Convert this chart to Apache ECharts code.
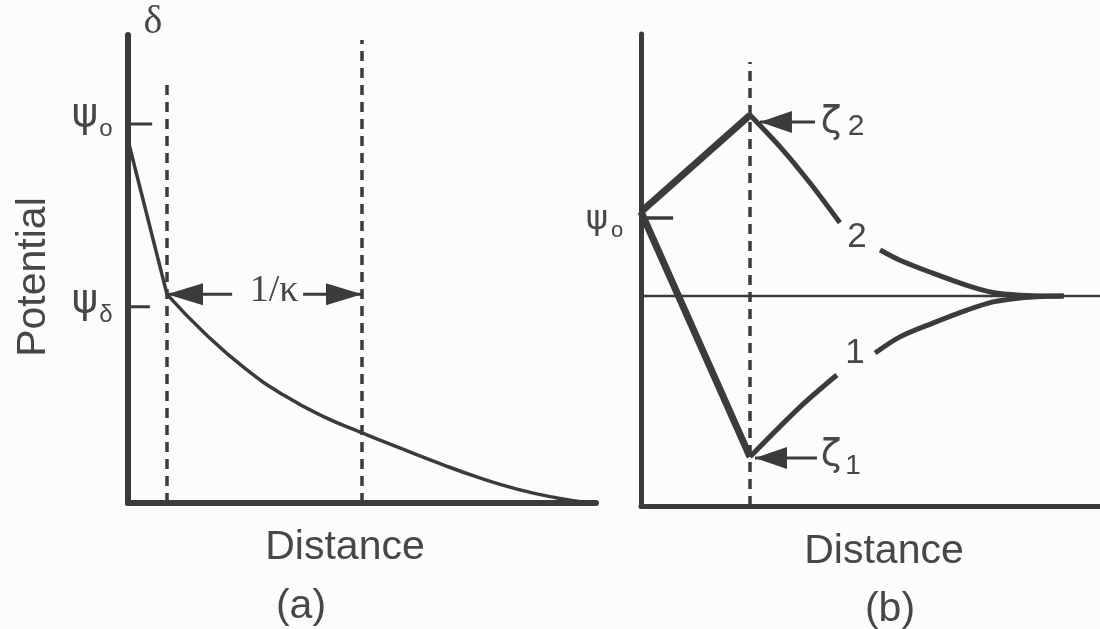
<!DOCTYPE html>
<html>
<head>
<meta charset="utf-8">
<script src="https://cdn.jsdelivr.net/npm/echarts@6/dist/echarts.min.js"></script>
<style>
  html, body { margin: 0; padding: 0; background: #fcfcfa; }
  #chart { width: 1100px; height: 629px; }
</style>
</head>
<body>
<div id="chart"></div>
<script>
// ---- panel (a): potential through the Stern layer and the diffuse layer ----
const sternX = [0, 1];
const sternY = [9.3, 5.35];
const diffuseX = [1, 2, 3, 4, 5, 6, 7, 8, 9, 10, 11, 11.85];
const diffuseY = [5.35, 4.32, 3.45, 2.76, 2.22, 1.8, 1.4, 1.01, 0.65, 0.35, 0.13, 0];
const psiTicksA = [9.72, 5.03];          // ψo, ψδ
const deltaX = 1;                         // plane δ
const debyeX = 6;                         // δ + 1/κ
const dashTopsA = [10.85, 11.87];
const kappaY = 5.35;
const kappaLeft = [2.67, 1];
const kappaRight = [4.49, 6];

// ---- panel (b): two zeta potentials from the same ψo ----
const psiOB = 7.48;
const psiTickB = 7.32;
const shearX = 2.85;
const shearTop = 11.29;
const baseY = 5.34;
const zeta2 = 9.94;
const zeta1 = 1.25;
const curve2NearX = [2.85, 3.71, 4.42, 5.2];
const curve2NearY = [9.94, 9.05, 8.21, 7.2];
const curve2FarX = [6.25, 6.77, 7.63, 8.52, 9.2, 9.91, 10.6, 11.05];
const curve2FarY = [6.51, 6.25, 5.92, 5.61, 5.43, 5.36, 5.34, 5.34];
const curve1NearX = [2.85, 4.16, 5.12];
const curve1NearY = [1.25, 2.52, 3.33];
const curve1FarX = [6.12, 6.77, 7.63, 8.52, 9.2, 9.91, 10.6, 11.05];
const curve1FarY = [3.89, 4.3, 4.65, 4.98, 5.19, 5.29, 5.33, 5.34];
const zeta2Arrow = [4.55, 3.11];
const zeta1Arrow = [4.6, 2.98];

const ink = '#3b3b3b';
const textInk = '#474747';
const headLeft = 'path://M0,5L14,0L14,10Z';
const headRight = 'path://M14,5L0,0L0,10Z';

const zip = (xs, ys) => xs.map((x, i) => [x, ys[i]]);

function curve(grid, xs, ys, width, smooth) {
  return {
    type: 'line', xAxisIndex: grid, yAxisIndex: grid,
    data: zip(xs, ys), showSymbol: false, smooth: smooth || false,
    lineStyle: { color: ink, width: width }, silent: true, z: 3
  };
}

function dashed(grid, x, top) {
  return {
    type: 'line', xAxisIndex: grid, yAxisIndex: grid,
    data: [[x, 0], [x, top]], showSymbol: false,
    lineStyle: { color: ink, width: 3.5, type: [10, 7] }, silent: true, z: 2
  };
}

function arrow(grid, xs, y, size) {
  const left = xs[1] < xs[0];
  return {
    type: 'line', xAxisIndex: grid, yAxisIndex: grid,
    data: [
      { value: [xs[0], y], symbol: 'none' },
      {
        value: [xs[1], y],
        symbol: left ? headLeft : headRight,
        symbolSize: size,
        symbolOffset: [left ? size[0] / 2 : -size[0] / 2, 0],
        itemStyle: { color: ink }
      }
    ],
    lineStyle: { color: ink, width: 3 }, silent: true, z: 4
  };
}

function txt(x, y, s, size, family, extra) {
  return Object.assign({
    type: 'text', x: x, y: y,
    style: {
      text: s, fill: textInk, font: size + 'px ' + family,
      textAlign: 'center', textVerticalAlign: 'middle'
    }
  }, extra || {});
}

const sans = '"Liberation Sans", Arial, sans-serif';
const serif = '"Liberation Serif", "Times New Roman", serif';
const greek = '"DejaVu Sans", sans-serif';

const chart = echarts.init(document.getElementById('chart'));

const axisBase = (min, max, width) => ({
  type: 'value', min: min, max: max,
  axisLine: { show: true, onZero: false, lineStyle: { color: ink, width: width } },
  axisTick: { show: false }, axisLabel: { show: false }, splitLine: { show: false }
});

chart.setOption({
  backgroundColor: '#fcfcfa',
  animation: false,
  grid: [
    { left: 128, top: 35, width: 468, height: 468 },
    { left: 641, top: 34, width: 459, height: 472 }
  ],
  xAxis: [
    Object.assign(axisBase(0, 12, 6), { gridIndex: 0 }),
    Object.assign(axisBase(0, 12, 5), { gridIndex: 1 })
  ],
  yAxis: [
    Object.assign(axisBase(0, 12, 6), { gridIndex: 0 }),
    Object.assign(axisBase(0, 12, 5), { gridIndex: 1 })
  ],
  series: [
    // panel (a)
    curve(0, sternX, sternY, 3.5),
    curve(0, diffuseX, diffuseY, 3.5, 0.5),
    dashed(0, deltaX, dashTopsA[0]),
    dashed(0, debyeX, dashTopsA[1]),
    curve(0, [0, 0.62], [psiTicksA[0], psiTicksA[0]], 3),
    curve(0, [0, 0.56], [psiTicksA[1], psiTicksA[1]], 3),
    arrow(0, kappaLeft, kappaY, [36, 22]),
    arrow(0, kappaRight, kappaY, [36, 22]),
    // panel (b)
    curve(1, [0, 12], [baseY, baseY], 2.5),
    dashed(1, shearX, shearTop),
    curve(1, [0, 0.84], [psiTickB, psiTickB], 3.5),
    curve(1, [0, shearX], [psiOB, zeta2], 7),
    curve(1, [0, shearX], [psiOB, zeta1], 7),
    curve(1, curve2NearX, curve2NearY, 5, 0.3),
    curve(1, curve2FarX, curve2FarY, 5, 0.3),
    curve(1, curve1NearX, curve1NearY, 5, 0.3),
    curve(1, curve1FarX, curve1FarY, 5, 0.3),
    arrow(1, zeta2Arrow, zeta2 - 0.18, [32, 22]),
    arrow(1, zeta1Arrow, zeta1 - 0.03, [32, 22])
  ],
  graphic: [
    txt(153, 22, 'δ', 40, serif),
    txt(85, 116, 'ψ', 40, greek),
    txt(106, 129, 'o', 24, sans),
    txt(85, 302, 'ψ', 40, greek),
    txt(106, 315, 'δ', 24, sans),
    txt(274, 291, '1/κ', 38, serif),
    txt(34, 277, 'Potential', 41, sans, { rotation: Math.PI / 2 }),
    txt(345, 548, 'Distance', 41, sans),
    txt(301, 607, '(a)', 41, sans),
    txt(597, 220, 'ψ', 34, greek),
    txt(617, 231, 'o', 22, sans),
    txt(831, 122, 'ζ', 38, greek),
    txt(856, 127, '2', 30, sans),
    txt(831, 455, 'ζ', 38, greek),
    txt(853, 466, '1', 28, sans),
    txt(857, 237, '2', 35, sans),
    txt(855, 353, '1', 35, sans),
    txt(884, 552, 'Distance', 41, sans),
    txt(890, 610, '(b)', 41, sans)
  ]
});
</script>
</body>
</html>
